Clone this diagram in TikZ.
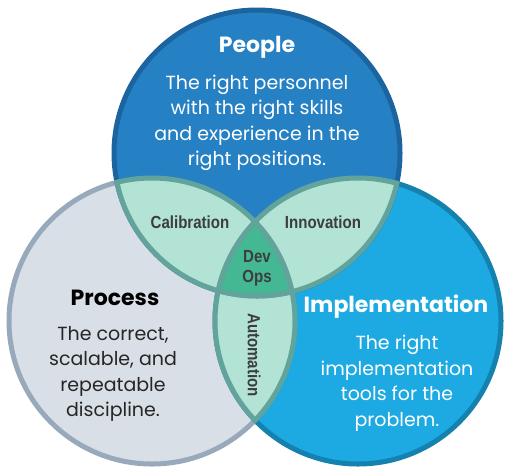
\documentclass[tikz,border=0pt]{standalone}
\usepackage{fontspec}
\setmainfont{Poppins}
\newfontfamily\labelfont[FakeStretch=0.86]{Liberation Sans}
\usepackage{tikz}
\usetikzlibrary{positioning}

\definecolor{peoplefill}{HTML}{2681C4}
\definecolor{peopleline}{HTML}{1C64A0}
\definecolor{processfill}{HTML}{D9DFE6}
\definecolor{processline}{HTML}{97A9BB}
\definecolor{implfill}{HTML}{1DAAE2}
\definecolor{implline}{HTML}{1581AE}
\definecolor{mint}{HTML}{B2E3D5}
\definecolor{teal}{HTML}{62A39C}
\definecolor{devops}{HTML}{43B892}
\definecolor{labeltext}{HTML}{3D3D3D}

\tikzset{
  title/.style={font=\bfseries\fontsize{22}{26}\selectfont, align=center},
  body/.style={font=\fontsize{19}{25.5}\selectfont, align=center},
  lens/.style={font=\labelfont\bfseries\fontsize{17.5}{20}\selectfont, text=labeltext, align=center}
}

\begin{document}
\begin{tikzpicture}[x=1pt, y=-1pt, line width=5pt]
\useasboundingbox (0,0) rectangle (505,467);

\coordinate (people) at (257,153);
\coordinate (process) at (152,321);
\coordinate (impl) at (358,321);

\foreach \c in {process, impl, people} {
    \draw[draw=\c line, fill=\c fill] (\c) circle[radius=143];
}

\foreach \a/\b in {people/process, people/impl, process/impl} {
    \begin{scope}
        \clip (\a) circle[radius=143];
        \fill[mint] (\b) circle[radius=143];
    \end{scope}
}

\begin{scope}
    \clip (people) circle[radius=143];
    \clip (process) circle[radius=143];
    \fill[devops] (impl) circle[radius=143];
\end{scope}

\foreach \a/\b in {people/process, process/people, people/impl, impl/people, process/impl, impl/process} {
    \begin{scope}
        \clip (\b) circle[radius=145.5];
        \draw[teal] (\a) circle[radius=143];
    \end{scope}
}

\node[title, text=white] (peopletitle) at (257,47) {People};
\node[body, text=white] (peopletext) at (257,123) {The right personnel\\with the right skills\\and experience in the\\right positions.};

\node[title, text=black] (processtitle) at (115,298) {Process};
\node[body, text=black!85] (processtext) at (113,374) {The correct,\\scalable, and\\repeatable\\discipline.};

\node[title, text=white] (impltitle) at (396,307) {Implementation};
\node[body, text=white] (impltext) at (397,383) {The right\\implementation\\tools for the\\problem.};

\node[lens] (calibration) at (190,222) {Calibration};
\node[lens] (innovation) at (323,222) {Innovation};
\node[lens] (devopslabel) at (257,268) {Dev\\Ops};
\node[lens, rotate=-90] (automation) at (254,355) {Automation};
\end{tikzpicture}
\end{document}
